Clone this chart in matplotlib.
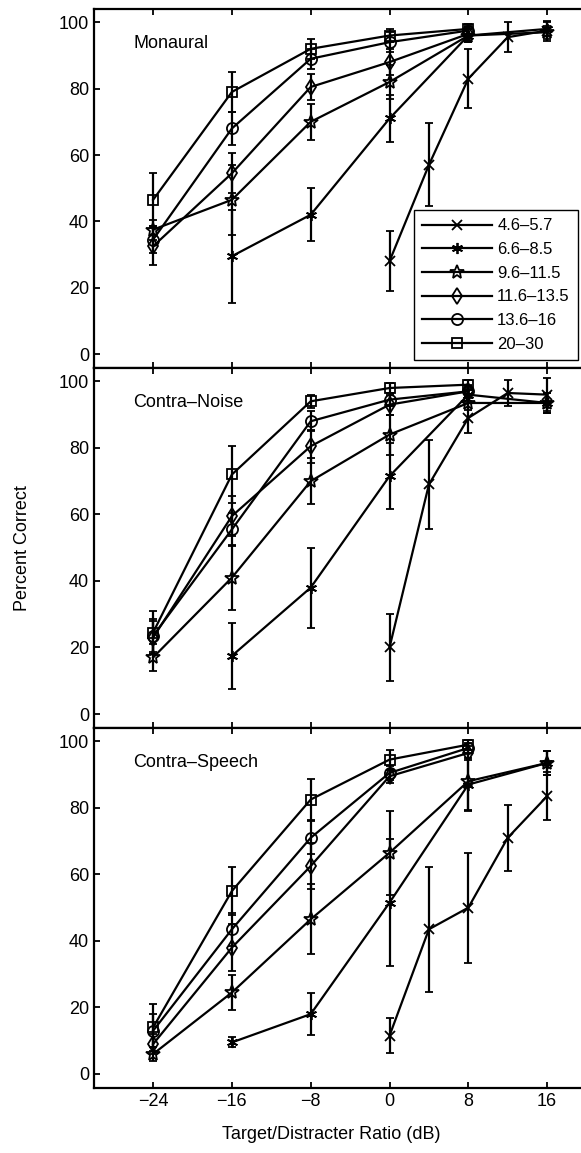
import numpy as np
import matplotlib
matplotlib.use("Agg")
import matplotlib.pyplot as plt

plt.rcParams['font.family'] = ['Liberation Sans', 'DejaVu Sans']

# age groups (legend) and the SNR positions each group was tested at
groups = ["4.6–5.7", "6.6–8.5", "9.6–11.5", "11.6–13.5", "13.6–16", "20–30"]
x_g1 = [0, 4, 8, 12, 16]
x_g2 = [-16, -8, 0, 8, 16]
x_g3 = [-24, -16, -8, 0, 8, 16]
x_g4 = [-24, -16, -8, 0, 8]
x_g5 = [-24, -16, -8, 0, 8]
x_g6 = [-24, -16, -8, 0, 8]

panels = ["Monaural", "Contra–Noise", "Contra–Speech"]

# Monaural
mon_y = [[28, 57, 83, 95.5, 97.5],
         [29.5, 42, 71, 96, 98],
         [37.5, 46.5, 70, 82, 96, 97],
         [32.5, 54.5, 80.5, 88, 96.5],
         [34.5, 68, 89, 94, 97.5],
         [46.5, 79, 92, 96, 98]]
mon_e = [[9, 12.5, 8.8, 4.5, 3],
         [14, 8, 7, 2, 2],
         [3, 10.5, 5.5, 5, 2, 2],
         [5.5, 6, 4, 4, 2],
         [4, 5, 3, 3, 1.5],
         [8, 6, 3, 2, 1.5]]

# Contra-Noise
noi_y = [[20, 69, 89, 96.5, 96],
         [17.5, 38, 71.5, 96, 93.5],
         [17, 41, 70, 84, 93.5, 93.5],
         [23, 59.5, 80.5, 93, 97],
         [23.5, 55.5, 88, 94.5, 97],
         [24.5, 72, 94, 98, 99]]
noi_e = [[10, 13.5, 4.5, 4, 5],
         [10, 12, 10, 2, 3],
         [4, 9.7, 7, 6, 2, 3],
         [5, 6, 5, 3, 2],
         [5, 5, 3, 2, 1.5],
         [6.5, 8.7, 2, 1.5, 1.5]]

# Contra-Speech
spe_y = [[11.5, 43.5, 50, 71, 83.5],
         [9.5, 18, 51.5, 87, 93.5],
         [6, 24.5, 46.5, 66.5, 88, 93.5],
         [9, 38, 62.5, 89.5, 96.5],
         [13, 43.5, 71, 90.5, 98],
         [14, 55, 82.5, 94.5, 99]]
spe_e = [[5.3, 18.8, 16.5, 10, 7.2],
         [1.5, 6.3, 19, 8, 3.5],
         [2, 5.2, 10.5, 12.7, 8.5, 3.5],
         [3, 7, 7, 2, 2],
         [5, 5, 5, 2, 1.5],
         [7, 7.2, 6.2, 3, 1.5]]

xs = [x_g1, x_g2, x_g3, x_g4, x_g5, x_g6]
all_y = [mon_y, noi_y, spe_y]
all_e = [mon_e, noi_e, spe_e]

markers = ['x', (6, 2, 0), '*', 'd', 'o', 's']
msizes = [7, 8, 10, 8, 8, 7]

fig = plt.figure(figsize=(5.81, 11.53), dpi=100)
left, width = 0.1618, 0.8477
bottoms = [0.6808, 0.3686, 0.0564]
heights = [0.3114, 0.3122, 0.3122]

for p in range(3):
    ax = fig.add_axes([left, bottoms[p], width, heights[p]])
    lines = []
    for g in range(6):
        h = ax.errorbar(xs[g], all_y[p][g], yerr=all_e[p][g], color='k',
                        lw=1.6, elinewidth=1.6, capsize=3, capthick=1.4,
                        marker=markers[g], ms=msizes[g], mfc='none',
                        mec='k', mew=1.3)
        lines.append(h[0])
    ax.set_xlim(-30, 20)
    ax.set_ylim(-4.2, 104)
    ax.set_yticks([0, 20, 40, 60, 80, 100])
    ax.set_xticks([-24, -16, -8, 0, 8, 16])
    ax.tick_params(direction='in', length=4, width=1.3, labelsize=13,
                   top=True, right=False)
    if p < 2:
        ax.set_xticklabels([])
    for s in ax.spines.values():
        s.set_linewidth(1.6)
    ax.text(0.08, 0.905, panels[p], transform=ax.transAxes, fontsize=13,
            va='center', ha='left')
    if p == 0:
        leg = ax.legend(lines, groups, loc='lower right',
                        bbox_to_anchor=(0.983, 0.022), borderaxespad=0,
                        fontsize=12, handlelength=4.2, fancybox=False,
                        edgecolor='k', framealpha=1, borderpad=0.5,
                        labelspacing=0.52, handletextpad=0.3)
        leg.get_frame().set_linewidth(1.0)

fig.text(0.038, 0.525, "Percent Correct", rotation=90, fontsize=13,
         ha='center', va='center')
fig.text(0.57, 0.016, "Target/Distracter Ratio (dB)", fontsize=13,
         ha='center', va='center')

fig.savefig("out.png", dpi=100)
